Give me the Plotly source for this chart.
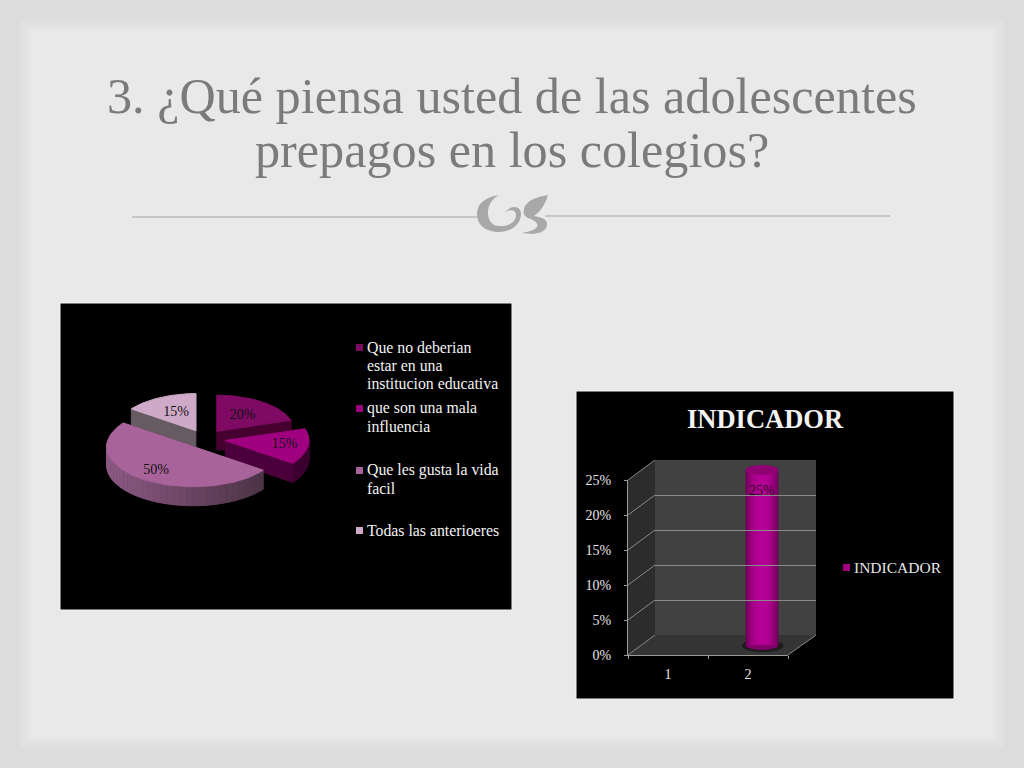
import numpy as np
import plotly.graph_objects as go

W = 1024
H = 768

title_lines = ['3. ¿Qué piensa usted de las adolescentes', 'prepagos en los colegios?']

pie_labels = ['Que no deberian<br>estar en una<br>institucion educativa', 'que son una mala<br>influencia',
              'Que les gusta la vida<br>facil', 'Todas las anterioeres']
pie_values = [20, 15, 50, 15]
pie_text = ['20%', '15%', '50%', '15%']

bar_title = 'INDICADOR'
bar_cats = [1, 2]
bar_values = [None, 25]
bar_ticks = [0, 5, 10, 15, 20, 25]

SERIF = 'Liberation Serif, serif'
TEXT_GREY = '#7b7b7b'

# slice colours: top, cut face, rim (left end), rim (right end)
top_col = ['#7e0a63', '#a0007f', '#a8639b', '#cfaac8']
cut_col = ['#45002f', '#4c003b', '#5a3a55', '#665b63']
rim_a = ['#5c0048', '#6a0054', '#8d5a85', '#8a7a86']
rim_b = ['#3a0030', '#3c0030', '#463040', '#5a4f58']


def px(x):
    return x / W


def py(y):
    return 1 - y / H


def paper_rect(x0, x1, y0, y1, col, line=None):
    fig.add_shape(type='rect', xref='paper', yref='paper', x0=px(x0), x1=px(x1), y0=py(y1), y1=py(y0),
                  fillcolor=col, line=line or dict(width=0), layer='below')


fig = go.Figure()

# slide background, outer band fades into the lighter middle
for inset, col in [(20, '#dfdfdf'), (23, '#e1e1e1'), (26, '#e4e4e4'), (29, '#e7e7e7'), (32, '#e9e9e9')]:
    paper_rect(inset, W - inset, inset, H - inset, col)

paper_rect(60, 512, 303, 610, '#000000', dict(color='#f4f4f4', width=1))
paper_rect(576, 954, 391, 699, '#000000', dict(color='#f4f4f4', width=1))

# pie geometry, px. back slices come out a bit smaller because of the tilt
cx, cy = 205, 439
rx, ry = 84, 39
depth = 19
explode = 0.24
slice_scale = [0.93, 1.0, 1.03, 0.95]
label_k = [0.52, 0.72, 0.75, 0.52]


def pie_xy(center, ang, k=1.0):
    # clockwise from 12 o'clock, y is up
    return center[0] + k * np.sin(ang), center[1] + k * np.cos(ang)


def add_poly(xs, ys, col):
    fig.add_trace(go.Scatter(x=xs, y=ys, xaxis='x3', yaxis='y3', mode='lines', fill='toself', fillcolor=col,
                             line=dict(color=col, width=1), hoverinfo='skip', showlegend=False))


angs = np.cumsum([0] + pie_values) / sum(pie_values) * 2 * np.pi
dy = depth / ry
for i in [3, 0, 1, 2]:
    a0, a1 = angs[i], angs[i + 1]
    mid = (a0 + a1) / 2
    k = slice_scale[i]
    c = (explode * np.sin(mid), explode * np.cos(mid))
    # cut faces
    for a in [a0, a1]:
        ex, ey = pie_xy(c, a, k)
        add_poly([c[0], ex, ex, c[0]], [c[1], ey, ey - dy, c[1] - dy], cut_col[i])
    # rim, drawn in strips for the shading
    steps = 40
    edges = np.linspace(a0, a1, steps + 1)
    for s in range(steps):
        if np.cos((edges[s] + edges[s + 1]) / 2) > 0.05 and i != 1:
            continue
        x0, y0 = pie_xy(c, edges[s], k)
        x1, y1 = pie_xy(c, edges[s + 1], k)
        t = (np.sin((edges[s] + edges[s + 1]) / 2) + 1) / 2
        ca = np.array([int(rim_a[i][j:j + 2], 16) for j in (1, 3, 5)])
        cb = np.array([int(rim_b[i][j:j + 2], 16) for j in (1, 3, 5)])
        rgb = (ca * (1 - t) + cb * t).astype(int)
        add_poly([x0, x1, x1, x0], [y0, y1, y1 - dy, y0 - dy], 'rgb(%d,%d,%d)' % tuple(rgb))
    # top
    arc = np.linspace(a0, a1, 60)
    xs = [c[0]] + [pie_xy(c, a, k)[0] for a in arc] + [c[0]]
    ys = [c[1]] + [pie_xy(c, a, k)[1] for a in arc] + [c[1]]
    add_poly(xs, ys, top_col[i])

# pie labels sit inside the slices
for i, a in enumerate((angs[:-1] + angs[1:]) / 2):
    c = (explode * np.sin(a), explode * np.cos(a))
    lx, ly = pie_xy(c, a, label_k[i])
    fig.add_trace(go.Scatter(x=[lx], y=[ly], xaxis='x3', yaxis='y3', mode='text', text=[pie_text[i]],
                             textfont=dict(family=SERIF, size=14, color='#111111'),
                             hoverinfo='skip', showlegend=False))

# pie legend
legend_y = [347, 408, 470, 530]
for lab, col, y in zip(pie_labels, top_col, legend_y):
    fig.add_shape(type='rect', xref='paper', yref='paper', x0=px(356), x1=px(363), y0=py(y + 4), y1=py(y - 3),
                  fillcolor=col, line=dict(width=0))
    for n, part in enumerate(lab.split('<br>')):
        fig.add_annotation(text=part, xref='paper', yref='paper', x=px(365), y=py(y + n * 18), xanchor='left',
                           yanchor='middle', align='left', showarrow=False,
                           font=dict(family=SERIF, size=15.8, color='#f2f2f2'))

# chart walls
front_l, front_r, front_b, front_t = 628, 788, 655, 480
back_l, back_r, back_b, back_t = 655, 816, 635, 460

shapes = [
    dict(type='path', path=f'M {px(front_l)} {py(front_t)} L {px(back_l)} {py(back_t)} L {px(back_l)} {py(back_b)} '
                           f'L {px(front_l)} {py(front_b)} Z',
         fillcolor='#2c2c2c'),
    dict(type='rect', x0=px(back_l), x1=px(back_r), y0=py(back_b), y1=py(back_t), fillcolor='#414141'),
    dict(type='path', path=f'M {px(front_l)} {py(front_b)} L {px(back_l)} {py(back_b)} L {px(back_r)} {py(back_b)} '
                           f'L {px(front_r)} {py(front_b)} Z',
         fillcolor='#343434'),
]
for s in shapes:
    fig.add_shape(xref='paper', yref='paper', line=dict(width=0), layer='below', **s)

# diagonal grid lines on the side wall and the floor
for v in bar_ticks:
    f = v / max(bar_ticks)
    fy = front_b + (front_t - front_b) * f
    by = back_b + (back_t - back_b) * f
    fig.add_shape(type='line', xref='paper', yref='paper', x0=px(front_l), x1=px(back_l), y0=py(fy), y1=py(by),
                  line=dict(color='#8a8a8a', width=1), layer='below')
fig.add_shape(type='line', xref='paper', yref='paper', x0=px(front_r), x1=px(back_r), y0=py(front_b), y1=py(back_b),
              line=dict(color='#8a8a8a', width=1), layer='below')

# back wall axes draw the horizontal grid
fig.add_trace(go.Scatter(x=[0, 1], y=[None, None], xaxis='x4', yaxis='y4', mode='lines', showlegend=False,
                         hoverinfo='skip'))

# invisible front axis carries the tick labels
fig.add_trace(go.Scatter(x=bar_cats, y=[None, None], xaxis='x', yaxis='y', mode='lines', showlegend=False,
                         hoverinfo='skip'))

# cylinder, narrower bars on top give the round shading
top_v = bar_values[1]
fig.add_shape(type='circle', xref='x2', yref='y2', x0=1.75, x1=2.27, y0=-1.0, y1=0.8,
              fillcolor='#1c1c1c', line=dict(width=0), layer='below')
fig.add_shape(type='circle', xref='x2', yref='y2', x0=1.795, x1=2.205, y0=-0.7, y1=0.7,
              fillcolor='#82006a', line=dict(width=0), layer='below')

shade_w = [0.41, 0.37, 0.32, 0.27, 0.21, 0.14, 0.08]
shade_c = ['#6e0058', '#82006a', '#930077', '#a00082', '#aa008b', '#b20092', '#b50096']
for w, col in zip(shade_w, shade_c):
    fig.add_trace(go.Bar(x=bar_cats, y=bar_values, width=w, marker=dict(color=col, line=dict(width=0)),
                         xaxis='x2', yaxis='y2', hoverinfo='skip', showlegend=False))

fig.add_shape(type='circle', xref='x2', yref='y2', x0=1.795, x1=2.205, y0=top_v - 0.7, y1=top_v + 0.7,
              fillcolor='#8f0073', line=dict(width=0), layer='above')
fig.add_annotation(text='25%', xref='x2', yref='y2', x=2, y=top_v - 2.9, showarrow=False,
                   font=dict(family=SERIF, size=14, color='#2a0022'))

# bar legend + chart title
fig.add_shape(type='rect', xref='paper', yref='paper', x0=px(843), x1=px(850), y0=py(571), y1=py(564),
              fillcolor='#a0007f', line=dict(width=0))
fig.add_annotation(text='INDICADOR', xref='paper', yref='paper', x=px(852), y=py(567), xanchor='left', yanchor='middle',
                   showarrow=False, font=dict(family=SERIF, size=15.5, color='#e6e6e6'))
fig.add_annotation(text=f'<b>{bar_title}</b>', xref='paper', yref='paper', x=px(765), y=py(419), xanchor='center',
                   yanchor='middle', showarrow=False, font=dict(family=SERIF, size=26.5, color='#f2f2f2'))

# slide furniture
fig.add_shape(type='line', xref='paper', yref='paper', x0=px(132), x1=px(478), y0=py(217), y1=py(217),
              line=dict(color='#a4a4a4', width=1))
fig.add_shape(type='line', xref='paper', yref='paper', x0=px(545), x1=px(890), y0=py(216), y1=py(216),
              line=dict(color='#a4a4a4', width=1))

# ornament
orn = [
    'M 499 195 C 485 197 477 204 477 214 C 477 226 487 232 499 232 C 511 232 521 224 521 214 C 521 206 511 204 505 213 '
    'C 509 209 516 209 516 215 C 516 222 508 227 499 226 C 492 226 488 220 488 213 C 488 205 492 199 499 195 Z',
    'M 548 195 C 535 197 525 202 524 209 C 523 213 524 216 528 218 C 534 220 539 223 537 227 C 535 230 528 232 522 233 '
    'C 532 235 547 234 547 224 C 547 219 541 217 534 216 C 540 212 545 205 548 195 Z',
]


def orn_path(d):
    out = []
    is_x = True
    for tok in d.split():
        if tok.isalpha():
            out.append(tok)
            is_x = True
        else:
            v = float(tok)
            out.append(f'{px(v):.5f}' if is_x else f'{py(v):.5f}')
            is_x = not is_x
    return ' '.join(out)


for d in orn:
    fig.add_shape(type='path', xref='paper', yref='paper', path=orn_path(d), fillcolor='#a8a8a8', line=dict(width=0))

fig.add_annotation(text=title_lines[0], xref='paper', yref='paper', x=px(511.5), y=py(96), xanchor='center',
                   yanchor='middle', showarrow=False, font=dict(family=SERIF, size=50.2, color=TEXT_GREY))
fig.add_annotation(text=title_lines[1], xref='paper', yref='paper', x=px(511.5), y=py(150), xanchor='center',
                   yanchor='middle', showarrow=False, font=dict(family=SERIF, size=50.2, color=TEXT_GREY))

tick_font = dict(family=SERIF, size=14, color='#e6e6e6')
fig.update_layout(
    width=W, height=H, autosize=False, margin=dict(l=0, r=0, t=0, b=0),
    paper_bgcolor='#dcdcdc', plot_bgcolor='rgba(0,0,0,0)', barmode='overlay', showlegend=False,
    xaxis=dict(domain=[px(front_l), px(front_r)], type='category', range=[-0.5, 1.5], tickson='boundaries',
               ticks='outside', ticklen=3, tickcolor='#9a9a9a', showline=True, linecolor='#9a9a9a', showgrid=False,
               zeroline=False, tickfont=tick_font, ticklabelstandoff=6, automargin=False, anchor='y'),
    yaxis=dict(domain=[py(front_b), py(front_t)], range=[0, 25], tickvals=bar_ticks, ticktext=[f'{v}%' for v in bar_ticks],
               ticks='outside', ticklen=3, tickcolor='#9a9a9a', showline=True, linecolor='#9a9a9a', showgrid=False,
               zeroline=False, tickfont=tick_font, ticklabelstandoff=10, automargin=False, anchor='x'),
    # mid depth axes for the cylinder, with room for the end caps
    xaxis2=dict(domain=[px(front_l + 14), px(front_r + 14)], range=[0.5, 2.5], visible=False, automargin=False, anchor='y2'),
    yaxis2=dict(domain=[py(front_b - 10 + 14), py(front_t - 10 - 14)], range=[-2, 27], visible=False, automargin=False,
                anchor='x2'),
    # pie axes in units of the pie radius
    xaxis3=dict(domain=[px(60), px(512)], range=[(60 - cx) / rx, (512 - cx) / rx], visible=False, automargin=False, anchor='y3'),
    yaxis3=dict(domain=[py(610), py(303)], range=[(cy - 610) / ry, (cy - 303) / ry], visible=False, automargin=False, anchor='x3'),
    xaxis4=dict(domain=[px(back_l), px(back_r)], range=[0, 1], visible=False, automargin=False, anchor='y4'),
    yaxis4=dict(domain=[py(back_b), py(back_t)], range=[0, 25], tickvals=bar_ticks, showticklabels=False, showgrid=True,
                gridcolor='#8a8a8a', gridwidth=1, zeroline=False, automargin=False, anchor='x4'),
)

fig.write_html('out.html', config=dict(displayModeBar=False), post_script="document.body.style.margin='0';")
